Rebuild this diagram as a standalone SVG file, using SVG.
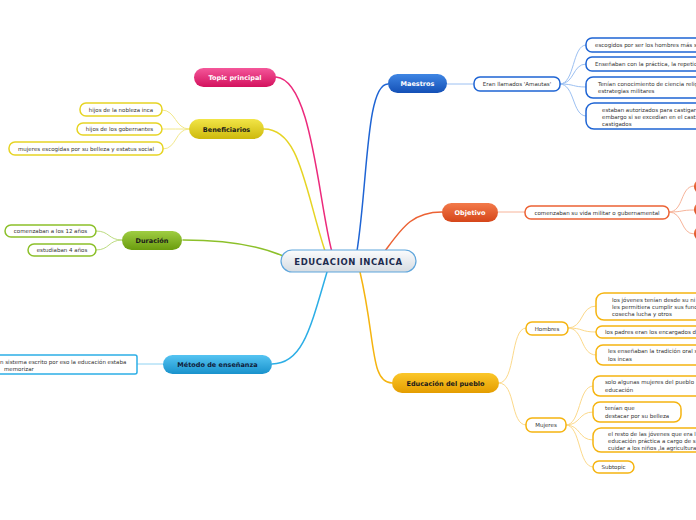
<svg xmlns="http://www.w3.org/2000/svg" width="696" height="520" viewBox="0 0 696 520">
<style>
.t{font-family:"DejaVu Sans",Verdana,sans-serif;font-size:5.5px;fill:#333}
.m{font-family:"DejaVu Sans",Verdana,sans-serif;font-size:6.5px;font-weight:bold;text-anchor:middle}
.c{fill:none;stroke-linecap:round}
.main{stroke-width:1.5}
.sub{stroke-width:1}
.box{fill:#fff;stroke-width:1.5}
.mid{text-anchor:middle}
</style>
<defs>
<linearGradient id="gPink" x1="0" y1="0" x2="0" y2="1"><stop offset="0" stop-color="#f4579a"/><stop offset="1" stop-color="#d3115d"/></linearGradient>
<linearGradient id="gBlue" x1="0" y1="0" x2="0" y2="1"><stop offset="0" stop-color="#3f86e4"/><stop offset="1" stop-color="#1450b6"/></linearGradient>
<linearGradient id="gYel" x1="0" y1="0" x2="0" y2="1"><stop offset="0" stop-color="#f2e547"/><stop offset="1" stop-color="#cdb90c"/></linearGradient>
<linearGradient id="gOrg" x1="0" y1="0" x2="0" y2="1"><stop offset="0" stop-color="#f37a4a"/><stop offset="1" stop-color="#d5461a"/></linearGradient>
<linearGradient id="gGrn" x1="0" y1="0" x2="0" y2="1"><stop offset="0" stop-color="#9fcd42"/><stop offset="1" stop-color="#6a9c0e"/></linearGradient>
<linearGradient id="gLb" x1="0" y1="0" x2="0" y2="1"><stop offset="0" stop-color="#55c4f2"/><stop offset="1" stop-color="#1992cc"/></linearGradient>
<linearGradient id="gAmb" x1="0" y1="0" x2="0" y2="1"><stop offset="0" stop-color="#fbc72a"/><stop offset="1" stop-color="#e49d00"/></linearGradient>
<linearGradient id="gCen" x1="0" y1="0" x2="0" y2="1"><stop offset="0" stop-color="#fbfcfd"/><stop offset="1" stop-color="#d6dce2"/></linearGradient>
</defs>

<g id="connectors">
<path class="c main" stroke="#ec2a7c" d="M332,252 C318,200 312,80 276,77"/>
<path class="c main" stroke="#e6d424" d="M325,251 C305,190 300,129 264,129"/>
<path class="c main" stroke="#1e64d4" d="M357,251 C368,180 366,84 388,84"/>
<path class="c main" stroke="#ec6234" d="M385,251 C402,228 412,212 442,212"/>
<path class="c main" stroke="#8cc02a" d="M183,240 C230,240 260,246 283,256"/>
<path class="c main" stroke="#2caee6" d="M327,272 C310,330 302,364 272,364"/>
<path class="c main" stroke="#f5b410" d="M360,272 C376,340 370,383 392,383"/>

<path class="c sub" stroke="#9cc0f2" d="M447,84 L473,84"/>
<path class="c sub" stroke="#9cc0f2" d="M560,84 C575,84 572,45 586,45"/>
<path class="c sub" stroke="#9cc0f2" d="M560,84 C575,84 572,64 586,64"/>
<path class="c sub" stroke="#9cc0f2" d="M560,84 C575,84 572,87 586,87"/>
<path class="c sub" stroke="#9cc0f2" d="M560,84 C575,84 572,116 586,116"/>

<path class="c sub" stroke="#f2e88a" d="M189,129 C175,129 176,110 162,110"/>
<path class="c sub" stroke="#f2e88a" d="M189,129 C175,129 176,129 162,129"/>
<path class="c sub" stroke="#f2e88a" d="M189,129 C175,129 177,149 163,149"/>

<path class="c sub" stroke="#bcdc80" d="M122,240 C108,240 110,231 96,231"/>
<path class="c sub" stroke="#bcdc80" d="M122,240 C108,240 110,250 96,250"/>

<path class="c sub" stroke="#8fd2f2" d="M163,364 L137,364"/>

<path class="c sub" stroke="#f7b49a" d="M498,212 L525,212"/>
<path class="c sub" stroke="#f7b49a" d="M669,212 C684,212 680,186 694,186"/>
<path class="c sub" stroke="#f7b49a" d="M669,212 C684,212 680,210 694,210"/>
<path class="c sub" stroke="#f7b49a" d="M669,212 C684,212 680,234 694,234"/>

<path class="c sub" stroke="#fcd98a" d="M499,383 C516,383 510,328 526,328"/>
<path class="c sub" stroke="#fcd98a" d="M499,383 C516,383 510,425 526,425"/>
<path class="c sub" stroke="#fcd98a" d="M568,328 C584,328 580,306 596,306"/>
<path class="c sub" stroke="#fcd98a" d="M568,328 C584,328 580,332 596,332"/>
<path class="c sub" stroke="#fcd98a" d="M568,328 C584,328 580,355 596,355"/>
<path class="c sub" stroke="#fcd98a" d="M566,425 C581,425 578,386 593,386"/>
<path class="c sub" stroke="#fcd98a" d="M566,425 C581,425 578,412 593,412"/>
<path class="c sub" stroke="#fcd98a" d="M566,425 C581,425 578,440 593,440"/>
<path class="c sub" stroke="#fcd98a" d="M566,425 C581,425 578,467 593,467"/>
</g>

<g id="center">
<rect x="281" y="250" width="135" height="22" rx="11" fill="url(#gCen)" stroke="#5fa6dc" stroke-width="1.2"/>
<text x="348.5" y="264.5" font-family="DejaVu Sans,Verdana,sans-serif" font-size="8.5" font-weight="bold" letter-spacing="0.6" text-anchor="middle" fill="#1c2b4f">EDUCACION INCAICA</text>
</g>

<g id="topic-principal">
<rect x="194" y="68" width="82" height="19" rx="9.5" fill="url(#gPink)"/>
<text class="m" x="235" y="80" fill="#fff">Topic principal</text>
</g>

<g id="maestros">
<rect x="388" y="74" width="59" height="19" rx="9.5" fill="url(#gBlue)"/>
<text class="m" x="417.5" y="86" fill="#fff">Maestros</text>
</g>
<g id="amautas">
<rect class="box" x="474" y="77" width="86" height="14" rx="6" stroke="#1e64d4"/>
<text class="t mid" x="517" y="86">Eran llamados 'Amautas'</text>
</g>
<g id="m1">
<rect class="box" x="586" y="38" width="140" height="14" rx="6" stroke="#1e64d4"/>
<text class="t" x="595" y="47">escogidos por ser los hombres más s</text>
</g>
<g id="m2">
<rect class="box" x="586" y="57" width="140" height="14" rx="6" stroke="#1e64d4"/>
<text class="t" x="595" y="66">Enseñaban con la práctica, la repetic</text>
</g>
<g id="m3">
<rect class="box" x="586" y="77" width="140" height="21" rx="7" stroke="#1e64d4"/>
<text class="t" x="598" y="86">Tenían conocimiento de ciencia relig</text>
<text class="t" x="598" y="93">estrategias militares</text>
</g>
<g id="m4">
<rect class="box" x="586" y="103" width="140" height="26" rx="8" stroke="#1e64d4"/>
<text class="t" x="602" y="112">estaban autorizados para castigar</text>
<text class="t" x="602" y="119">embargo si se excedían en el cast</text>
<text class="t" x="602" y="126">castigados</text>
</g>

<g id="beneficiarios">
<rect x="189" y="119" width="75" height="20" rx="10" fill="url(#gYel)"/>
<text class="m" x="226.5" y="131.5" fill="#1a1a1a">Beneficiarios</text>
</g>
<g id="b1">
<rect class="box" x="80" y="103" width="82" height="13" rx="6" stroke="#e6d424"/>
<text class="t mid" x="121" y="111.5">hijos de la nobleza inca</text>
</g>
<g id="b2">
<rect class="box" x="77" y="123" width="85" height="12" rx="6" stroke="#e6d424"/>
<text class="t mid" x="119.5" y="131">hijos de los gobernantes</text>
</g>
<g id="b3">
<rect class="box" x="9" y="142" width="154" height="13" rx="6" stroke="#e6d424"/>
<text class="t mid" x="86" y="150.5">mujeres escogidas por su belleza y estatus social</text>
</g>

<g id="objetivo">
<rect x="442" y="203" width="56" height="19" rx="9.5" fill="url(#gOrg)"/>
<text class="m" x="470" y="215" fill="#fff">Objetivo</text>
</g>
<g id="o1">
<rect class="box" x="525" y="206" width="144" height="13" rx="6" stroke="#ec6234"/>
<text class="t mid" x="597" y="214.5">comenzaban su vida militar o gubernamental</text>
</g>
<g id="o1a"><rect x="694" y="180" width="20" height="13" rx="6" fill="url(#gOrg)"/></g>
<g id="o1b"><rect x="694" y="203" width="20" height="13" rx="6" fill="url(#gOrg)"/></g>
<g id="o1c"><rect x="694" y="227" width="20" height="13" rx="6" fill="url(#gOrg)"/></g>

<g id="duracion">
<rect x="122" y="231" width="60" height="19" rx="9.5" fill="url(#gGrn)"/>
<text class="m" x="152" y="243" fill="#1a1a1a">Duración</text>
</g>
<g id="d1">
<rect class="box" x="5" y="225" width="91" height="12" rx="6" stroke="#8cc02a"/>
<text class="t mid" x="50.5" y="233">comenzaban a los 12 años</text>
</g>
<g id="d2">
<rect class="box" x="28" y="244" width="68" height="12" rx="6" stroke="#8cc02a"/>
<text class="t mid" x="62" y="252">estudiaban 4 años</text>
</g>

<g id="metodo">
<rect x="163" y="355" width="109" height="19" rx="9.5" fill="url(#gLb)"/>
<text class="m" x="217.5" y="367" fill="#10203a">Método de enseñanza</text>
</g>
<g id="me1">
<rect class="box" x="-10" y="355" width="147" height="19" rx="2" stroke="#2caee6"/>
<text class="t" x="0" y="363.5">n sistema escrito por eso la educación estaba</text>
<text class="t" x="4" y="370.5">memorizar</text>
</g>

<g id="educacion-pueblo">
<rect x="392" y="373" width="107" height="20" rx="10" fill="url(#gAmb)"/>
<text class="m" x="445.5" y="385.5" fill="#1a1a1a">Educación del pueblo</text>
</g>
<g id="hombres">
<rect class="box" x="526" y="322" width="42" height="13" rx="6" stroke="#f5b410"/>
<text class="t mid" x="547" y="330.5">Hombres</text>
</g>
<g id="h1">
<rect class="box" x="596" y="293" width="140" height="27" rx="8" stroke="#f5b410"/>
<text class="t" x="612" y="302">los jóvenes tenían desde su ni</text>
<text class="t" x="612" y="309">les permitiera cumplir sus func</text>
<text class="t" x="612" y="316">cosecha lucha y otros</text>
</g>
<g id="h2">
<rect class="box" x="596" y="326" width="140" height="12" rx="6" stroke="#f5b410"/>
<text class="t" x="605" y="334">los padres eran los encargados d</text>
</g>
<g id="h3">
<rect class="box" x="596" y="345" width="140" height="20" rx="7" stroke="#f5b410"/>
<text class="t" x="608" y="353">les enseñaban la tradición oral s</text>
<text class="t" x="608" y="361">los incas</text>
</g>
<g id="mujeres">
<rect class="box" x="526" y="418" width="40" height="14" rx="6" stroke="#f5b410"/>
<text class="t mid" x="546" y="427">Mujeres</text>
</g>
<g id="mu1">
<rect class="box" x="593" y="376" width="140" height="20" rx="7" stroke="#f5b410"/>
<text class="t" x="605" y="384">solo algunas mujeres del pueblo</text>
<text class="t" x="605" y="392">educación</text>
</g>
<g id="mu2">
<rect class="box" x="593" y="402" width="88" height="20" rx="7" stroke="#f5b410"/>
<text class="t" x="605" y="410">tenían que</text>
<text class="t" x="605" y="418">destacar por su belleza</text>
</g>
<g id="mu3">
<rect class="box" x="593" y="428" width="140" height="24" rx="8" stroke="#f5b410"/>
<text class="t" x="608" y="436">el resto de las jóvenes que era l</text>
<text class="t" x="608" y="443">educación práctica a cargo de s</text>
<text class="t" x="608" y="450">cuidar a los niños ,la agricultura</text>
</g>
<g id="mu4">
<rect class="box" x="593" y="461" width="41" height="12" rx="6" stroke="#f5b410"/>
<text class="t mid" x="613.5" y="469">Subtopic</text>
</g>
</svg>
